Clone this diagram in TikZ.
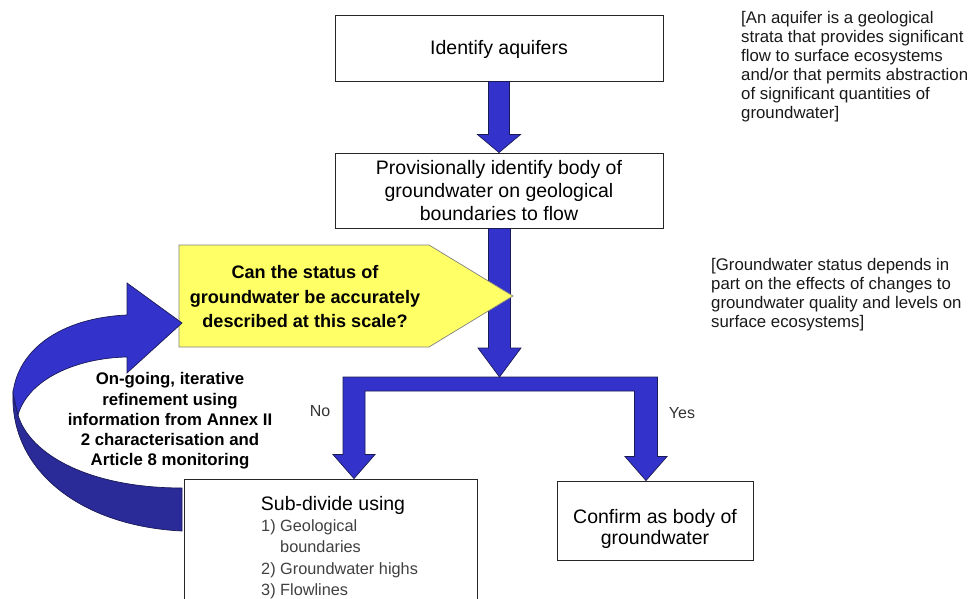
\documentclass[tikz,border=0pt]{standalone}
\usepackage{fontspec}
\setmainfont{Liberation Sans}
\usetikzlibrary{calc}
\definecolor{arrblue}{HTML}{3333CC}
\definecolor{arrdark}{HTML}{2A2A99}
\definecolor{edgeblue}{HTML}{1A1A55}
\definecolor{qyellow}{HTML}{FFFF66}
\definecolor{notegray}{HTML}{333333}
\newcommand\BlockDown[5]{%
  \draw[blk] let \p1=(#1), \p2=(#2) in
   (\x2-#3pt,\y1) -- (\x2+#3pt,\y1) -- (\x2+#3pt,\y2+#5pt) -- (\x2+#4pt,\y2+#5pt)
   -- (\x2,\y2) -- (\x2-#4pt,\y2+#5pt) -- (\x2-#3pt,\y2+#5pt) -- cycle;}
\begin{document}
\begin{tikzpicture}[x=1pt,y=-1pt,
  box/.style={draw=black!85,line width=0.9pt,fill=white,inner sep=0pt,align=center},
  blk/.style={fill=arrblue,draw=edgeblue,line width=0.7pt,line join=miter},
  bigtxt/.style={font=\fontsize{19.5}{23}\selectfont,align=center,inner sep=0pt},
  notetxt/.style={font=\fontsize{16.8}{19}\selectfont,align=left,inner sep=0pt,text=black!90},
  qtxt/.style={font=\bfseries\fontsize{18.1}{24.5}\selectfont,align=center,inner sep=0pt},
  looptxt/.style={font=\bfseries\fontsize{16.8}{20.3}\selectfont,align=center,inner sep=0pt},
  listtxt/.style={font=\fontsize{16.3}{21.6}\selectfont,align=left,inner sep=0pt,text=black!75},
  yn/.style={font=\fontsize{16}{19}\selectfont,inner sep=0pt,text=notegray}]
\useasboundingbox (0,0) rectangle (969,599);
\clip (0,0) rectangle (969,599);

% boxes
\node[box,minimum width=328,minimum height=66] (b1) at (499,48) {};
\node[bigtxt] (t1) at (499,49) {Identify aquifers};
\node[box,minimum width=328,minimum height=75] (b2) at (499,190.5) {};
\node[bigtxt] (t2) at (499,191) {Provisionally identify body of\\groundwater on geological\\boundaries to flow};
\node[box,minimum width=293,minimum height=160] (sub) at (330.5,559) {};
\node[box,minimum width=196,minimum height=79] (conf) at (655,520.5) {};
\node[bigtxt,font=\fontsize{19.5}{21.5}\selectfont] (tconf) at (655,529) {Confirm as body of\\groundwater};
\node[bigtxt] (tsub) at (333,505) {Sub-divide using};
\node[listtxt,anchor=north west] (list) at (261,519) {1) Geological\\\hphantom{1)~}boundaries\\2) Groundwater highs\\3) Flowlines};

% arrow 1
\BlockDown{b1.south}{b2.north}{10.5}{21.5}{18}

% fork
\coordinate (split) at (499.5,377);
\coordinate (tipL) at ([xshift=23.5pt]sub.north);
\coordinate (tipR) at ([xshift=-9pt]conf.north);
\draw[blk] let \p1=(split), \p2=(tipL), \p3=(tipR) in
  (\x2-11pt,\y1) -- (\x3+11.5pt,\y1) -- (\x3+11.5pt,\y3+24pt) -- (\x3+21pt,\y3+24pt)
  -- (\x3,\y3) -- (\x3-21pt,\y3+24pt) -- (\x3-11.5pt,\y3+24pt) -- (\x3-11.5pt,\y1-14pt)
  -- (\x2+11pt,\y1-14pt) -- (\x2+11pt,\y2+24pt) -- (\x2+21pt,\y2+24pt) -- (\x2,\y2)
  -- (\x2-21pt,\y2+24pt) -- (\x2-11pt,\y2+24pt) -- cycle;

% arrow 2
\BlockDown{b2.south}{split}{11}{21.5}{29}

% yellow question
\draw[fill=qyellow,draw=black!50,line width=0.7pt] (179,245) -- (429,245) -- (513,296) -- (429,347) -- (179,347) -- cycle;
\node[qtxt] (q) at (305,297) {Can the status of\\groundwater be accurately\\described at this scale?};

% curved loop arrow
\draw[fill=arrdark,draw=edgeblue,line width=0.7pt]
  (13,393) .. controls (10,470) and (80,526) .. (182,531) -- (182,488)
  .. controls (90,488) and (30,455) .. (18,415) -- cycle;
\draw[fill=arrblue,draw=edgeblue,line width=0.7pt,line join=miter]
  (127,283) -- (182,323) -- (127,373) -- (127,357)
  .. controls (75,358) and (28,380) .. (18,415) -- (13,393)
  .. controls (18,350) and (60,318) .. (127,315) -- cycle;
\node[looptxt] (loop) at (170,421) {On-going, iterative\\refinement using\\information from Annex II\\2 characterisation and\\Article 8 monitoring};

% labels
\node[yn] (no) at (320,411) {No};
\node[yn] (yes) at (682,413) {Yes};

% notes
\node[notetxt,anchor=north west] (n1) at (741,11) {[An aquifer is a geological\\strata that provides significant\\flow to surface ecosystems\\and/or that permits abstraction\\of significant quantities of\\groundwater]};
\node[notetxt,anchor=north west] (n2) at (711,258) {[Groundwater status depends in\\part on the effects of changes to\\groundwater quality and levels on\\surface ecosystems]};
\end{tikzpicture}
\end{document}
